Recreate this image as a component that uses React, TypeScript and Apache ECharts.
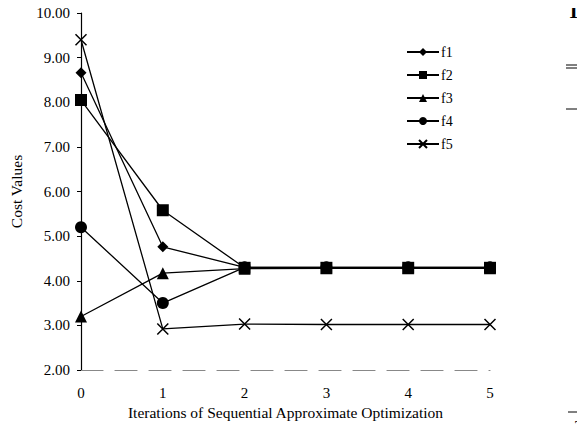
import React, { useEffect, useRef } from "react";
import * as echarts from "echarts";

const iterations = ["0", "1", "2", "3", "4", "5"];
const f1 = [8.66, 4.76, 4.3, 4.3, 4.3, 4.3];
const f2 = [8.05, 5.58, 4.29, 4.29, 4.29, 4.29];
const f3 = [3.2, 4.17, 4.27, 4.28, 4.28, 4.28];
const f4 = [5.2, 3.5, 4.3, 4.3, 4.3, 4.3];
const f5 = [9.4, 2.92, 3.03, 3.02, 3.02, 3.02];

const FONT = "Liberation Serif";

export default function App() {
  const ref = useRef<HTMLDivElement>(null);
  useEffect(() => {
    const chart = echarts.init(ref.current!, null, { renderer: "svg" });
    const base = (name: string, data: number[], symbol: string, size: number, z = 2) => ({
      name,
      type: "line",
      data,
      symbol,
      symbolSize: size,
      showSymbol: true,
      lineStyle: { color: "#000", width: 1.3 },
      itemStyle: { color: "#000" },
      z,
    });
    chart.setOption({
      animation: false,
      backgroundColor: "#fff",
      textStyle: { fontFamily: FONT, color: "#000" },
      grid: { left: 78, right: 95, top: 13, bottom: 63 },
      legend: {
        orient: "vertical",
        left: 401,
        top: 40,
        itemWidth: 32,
        itemHeight: 10,
        itemGap: 9,
        textStyle: { fontFamily: FONT, fontSize: 14, color: "#000", padding: [0, 0, 0, -3] },
        data: ["f1", "f2", "f3", "f4", "f5"],
      },
      xAxis: {
        type: "category",
        data: iterations,
        boundaryGap: false,
        name: "Iterations of Sequential Approximate Optimization",
        nameLocation: "middle",
        nameGap: 30,
        nameTextStyle: { fontFamily: FONT, fontSize: 15.5, color: "#000" },
        axisLine: { lineStyle: { color: "#888", width: 1.2, type: [22, 12] } },
        axisTick: { show: false },
        axisLabel: { fontFamily: FONT, fontSize: 15, color: "#000", margin: 15 },
        splitLine: { show: false },
      },
      yAxis: {
        type: "value",
        min: 2,
        max: 10,
        interval: 1,
        name: "Cost Values",
        nameLocation: "middle",
        nameGap: 57,
        nameTextStyle: { fontFamily: FONT, fontSize: 15.5, color: "#000" },
        axisLine: { show: true, lineStyle: { color: "#000", width: 1.2 } },
        axisTick: { show: true, inside: false, length: 4, lineStyle: { color: "#000" } },
        axisLabel: {
          fontFamily: FONT,
          fontSize: 15,
          color: "#000",
          margin: 11,
          formatter: (v: number) => v.toFixed(2),
        },
        splitLine: { show: false },
      },
      series: [
        base("f1", f1, "diamond", 11),
        base("f2", f2, "rect", 12, 3),
        base("f3", f3, "triangle", 12),
        base("f4", f4, "circle", 12),
        {
          ...base("f5", f5, "path://M0,0L10,10M10,0L0,10", 11),
          itemStyle: { color: "#000", borderColor: "#000", borderWidth: 1.5 },
        },
      ],
      graphic: [
        {
          type: "text",
          x: 567,
          y: 1,
          style: { text: "T", fontSize: 20, fontWeight: "bold", fontFamily: FONT, fill: "#000", verticalAlign: "top" },
        },
        { type: "line", shape: { x1: 566, y1: 65, x2: 585, y2: 65 }, style: { stroke: "#000", lineWidth: 1 } },
        { type: "line", shape: { x1: 566, y1: 68, x2: 585, y2: 68 }, style: { stroke: "#000", lineWidth: 1 } },
        { type: "line", shape: { x1: 566, y1: 109, x2: 585, y2: 109 }, style: { stroke: "#000", lineWidth: 1 } },
        { type: "line", shape: { x1: 568, y1: 412, x2: 585, y2: 412 }, style: { stroke: "#000", lineWidth: 1 } },
        {
          type: "text",
          x: 575,
          y: 419,
          style: { text: "T", fontSize: 12, fontWeight: "bold", fontFamily: FONT, fill: "#000", verticalAlign: "top" },
        },
      ],
    });
    return () => chart.dispose();
  }, []);
  return <div ref={ref} style={{ width: 585, height: 433, margin: -8 }} />;
}
